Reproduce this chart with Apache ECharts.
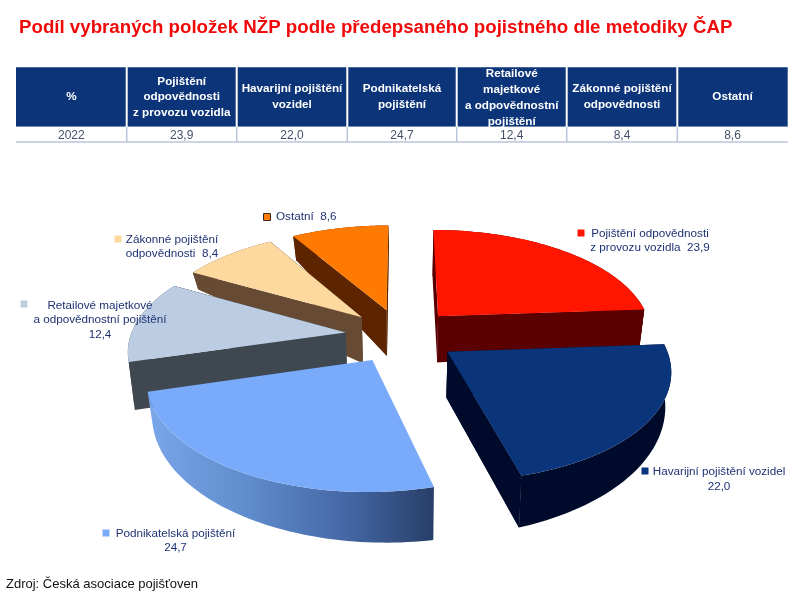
<!DOCTYPE html>
<html><head><meta charset="utf-8">
<style>html,body{margin:0;padding:0;background:#fff}#c{width:800px;height:600px}</style>
<script src="https://cdn.jsdelivr.net/npm/echarts@6/dist/echarts.min.js"></script>
</head><body><div id="c"></div>
<script>
const titleText = 'Podíl vybraných položek NŽP podle předepsaného pojistného dle metodiky ČAP';
const sourceText = 'Zdroj: Česká asociace pojišťoven';
const headerLabels = ['%','Pojištění\nodpovědnosti\nz provozu vozidla','Havarijní pojištění\nvozidel','Podnikatelská\npojištění','Retailové\nmajetkové\na odpovědnostní\npojištění','Zákonné pojištění\nodpovědnosti','Ostatní'];
const rowYear = '2022';
const categories = ['Pojištění odpovědnosti z provozu vozidla','Havarijní pojištění vozidel','Podnikatelská pojištění','Retailové majetkové a odpovědnostní pojištění','Zákonné pojištění odpovědnosti','Ostatní'];
const shares = [23.9,22.0,24.7,12.4,8.4,8.6];
const labelNames = ['Pojištění odpovědnosti\nz provozu vozidla  ','Havarijní pojištění vozidel\n','Podnikatelská pojištění\n','Retailové majetkové\na odpovědnostní pojištění\n','Zákonné pojištění\nodpovědnosti  ','Ostatní  '];

const topColors = ['#ff1500','#0b357a','#7aabfa','#bccde3','#fdd9a0','#ff7a00'];
const wallColors = ['#5a0000','#000b2c',null,'#3f4850','#664a33','#5c2500'];
const paintOrder = [5,4,3,0,2,1];
const rimDepths = [[46,46],[30,52],[53,36],[48,48],[17,17],[24,24]];
const labelSpots = [[650,241,'center'],[719,479.5,'center'],[175.5,541,'center'],[100,320,'center'],[172,247,'center'],[276,217,'left']];
const keySpots = [[581,233],[645,471],[106,533],[24,304],[118,239],[267,217]];
const scene = {cx:401,cy:335.5,a:215,b:104.4,k:0.149,explode:0.26,apexDepth:46,shrink:5};

const fmt = v => v.toFixed(1).replace('.',',');
const total = shares.reduce((s,v)=>s+v,0);
const angles = []; { let acc=0; shares.forEach(v=>{const s=acc; acc+=v/total*Math.PI*2; angles.push([s,acc]);}); }

function project(X,Y){ const w=1-scene.k*Y; return [scene.cx+scene.a*X/w, scene.cy+scene.b*Y/w]; }

function renderSlice(params, api){
  const i = api.value(0);
  const [s,e] = angles[i];
  const m = (s+e)/2;
  const ox = scene.explode*Math.sin(m), oy = -scene.explode*Math.cos(m);
  const n = 60, rim = [];
  for(let t=0;t<=n;t++){
    const th = s+(e-s)*t/n, X = ox+Math.sin(th), Y = oy-Math.cos(th);
    const p = project(X,Y), d = rimDepths[i][0]+(rimDepths[i][1]-rimDepths[i][0])*t/n;
    rim.push({p, q:[p[0]-scene.shrink*X, p[1]+d]});
  }
  const apex = project(ox,oy);
  const apexB = [apex[0]-scene.shrink*ox, apex[1]+scene.apexDepth];
  const wall = wallColors[i] || {type:'linear',x:0,y:0,x2:1,y2:0,colorStops:[{offset:0,color:'#7aa6ea'},{offset:.35,color:'#5f8ccc'},{offset:.7,color:'#4467a4'},{offset:1,color:'#273e68'}]};
  const solid = wallColors[i] || '#4467a4';
  const poly = (pts,fill)=>({type:'polygon',shape:{points:pts},style:{fill}});
  const children = [];
  if(wallColors[i]){
    children.push(poly([apex,rim[0].p,rim[0].q,apexB],solid));
    children.push(poly([apex,rim[n].p,rim[n].q,apexB],solid));
  }
  children.push(poly(rim.map(r=>r.p).concat(rim.map(r=>r.q).reverse()),wall));
  if(wallColors[i]) children.push(poly([apex,rim[n].p,rim[n].q,apexB],solid));
  children.push(poly([apex].concat(rim.map(r=>r.p)),topColors[i]));
  return {type:'group',children};
}

const colEdges = [16,126.7,236.7,347.3,456.7,566.7,677.3,787.7];
const F = 'Liberation Sans, Arial, sans-serif';
const g = [];
g.push({type:'text',z:5,style:{text:titleText,x:19,y:28,fill:'#f00a0a',font:'bold 18.7px '+F,textVerticalAlign:'middle'}});
g.push({type:'text',z:5,style:{text:sourceText,x:6,y:584,fill:'#111',font:'13px '+F,textVerticalAlign:'middle'}});
const rowVals = [rowYear].concat(shares.map(fmt));
headerLabels.forEach((h,i)=>{
  const x0=colEdges[i],x1=colEdges[i+1],mid=(x0+x1)/2;
  g.push({type:'rect',z:2,shape:{x:x0+(i?1:0),y:67.3,width:x1-x0-(i?1:0)-(i<6?1:0),height:59.4},style:{fill:'#0b3479'}});
  g.push({type:'text',z:3,style:{text:h,x:mid,y:i===4?97.8:97,fill:'#fff',font:'bold 11.7px '+F,lineHeight:i===4?16:15.7,textAlign:'center',textVerticalAlign:'middle',align:'center',verticalAlign:'middle'}});
  g.push({type:'text',z:5,style:{text:rowVals[i],x:mid,y:136,fill:'#44506a',font:'12px '+F,textAlign:'center',textVerticalAlign:'middle',align:'center',verticalAlign:'middle'}});
  if(i>0) g.push({type:'line',z:5,shape:{x1:x0,y1:127,x2:x0,y2:142},style:{stroke:'#b8c6dc',lineWidth:1.5}});
});
g.push({type:'rect',z:4,shape:{x:16,y:126.7,width:772,height:15},style:{fill:'#fff'}});
g.push({type:'line',z:5,shape:{x1:16,y1:142,x2:787.7,y2:142},style:{stroke:'#b8c6dc',lineWidth:1.5}});
shares.forEach((v,i)=>{
  const [kx,ky]=keySpots[i], [lx,ly,al]=labelSpots[i];
  g.push({type:'rect',z:6,shape:{x:kx-3.5,y:ky-3.5,width:7,height:7},style:{fill:topColors[i],stroke:i===5?'#3a2a20':null,lineWidth:1}});
  g.push({type:'text',z:6,style:{text:labelNames[i]+fmt(v),x:lx,y:ly,fill:'#1f3373',font:'11.7px '+F,lineHeight:14.5,textAlign:al,textVerticalAlign:'middle',align:al,verticalAlign:'middle'}});
});

const chart = echarts.init(document.getElementById('c'),null,{renderer:'canvas'});
chart.setOption({
  animation:false,
  backgroundColor:'#fff',
  graphic:{elements:g},
  series:[{type:'custom',coordinateSystem:'none',silent:true,renderItem:renderSlice,
    dimensions:['slice','share'],encode:{value:[0,1]},
    data:paintOrder.map(i=>({name:categories[i],value:[i,shares[i]]}))}]
});
</script></body></html>
